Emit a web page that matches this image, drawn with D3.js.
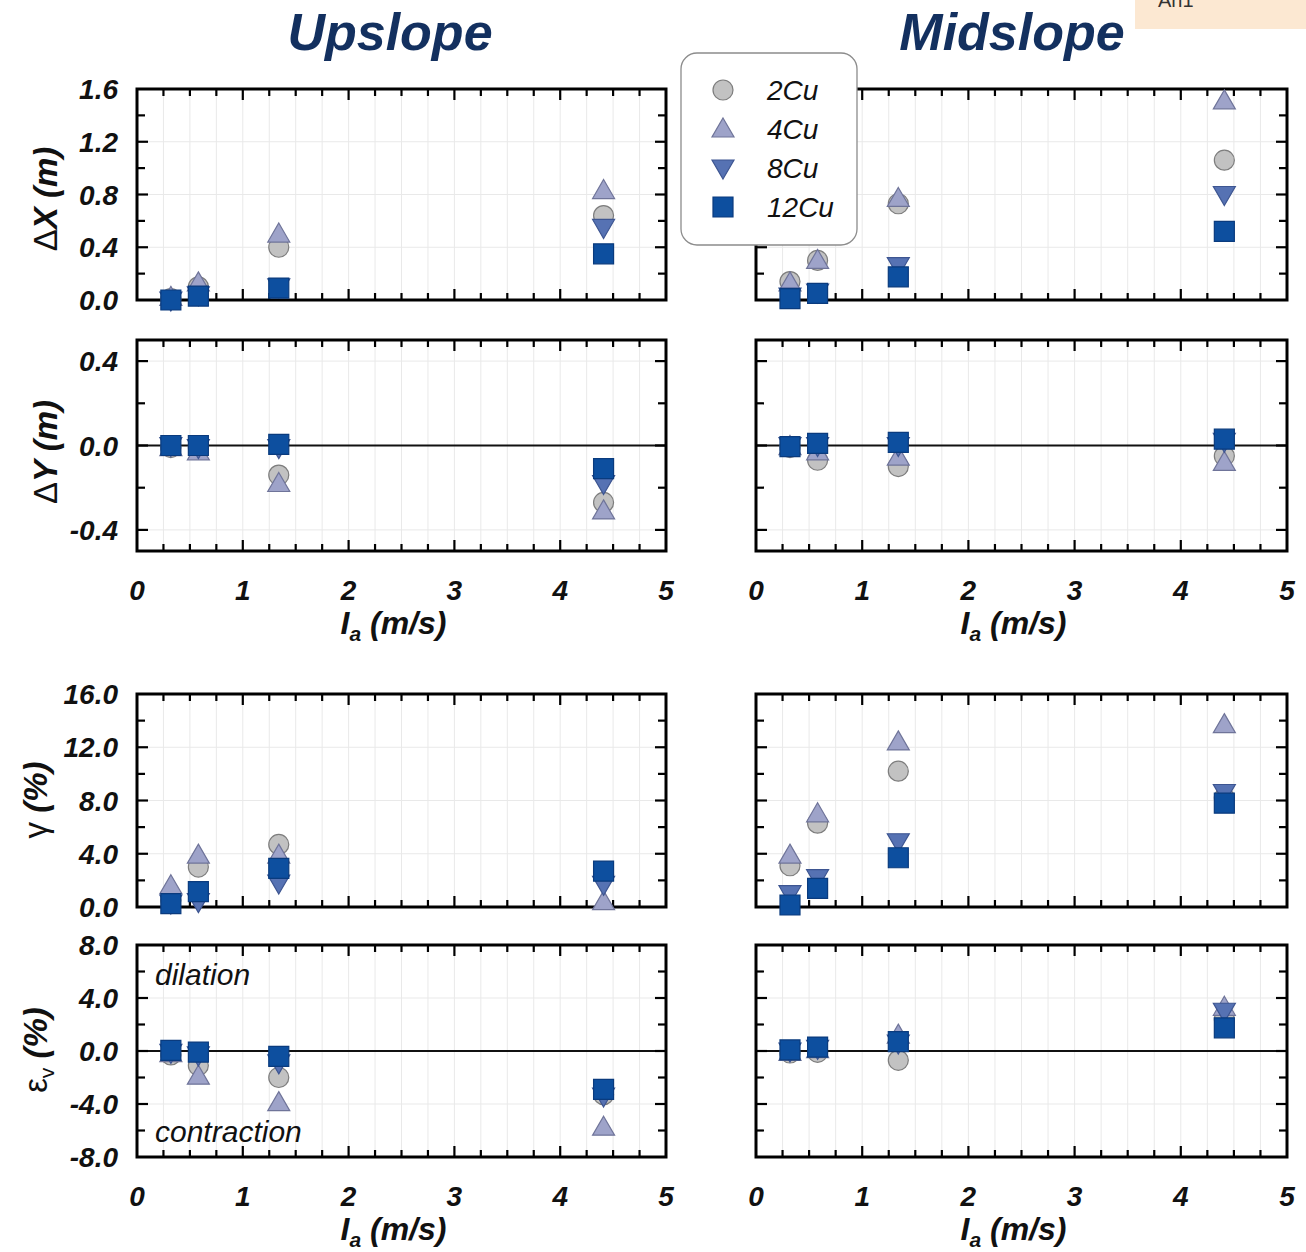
<!DOCTYPE html>
<html>
<head>
<meta charset="utf-8">
<script src="https://cdn.jsdelivr.net/npm/d3@7"></script>
<style>
  html, body { margin: 0; padding: 0; background: #ffffff; }
  svg { display: block; font-family: "Liberation Sans", Arial, sans-serif; }
</style>
</head>
<body>
<svg id="chart" width="1306" height="1252"></svg>
<script>
// Arias intensity of each shaking event (m/s)
const ia = [0.32, 0.58, 1.34, 4.41];
const seriesNames = ["2Cu", "4Cu", "8Cu", "12Cu"];
const xTickValues = [0, 1, 2, 3, 4, 5];

// Rows below follow seriesNames order: 2Cu, 4Cu, 8Cu, 12Cu
const dxUpslope = [
  [0.01, 0.10, 0.40, 0.64],
  [0.02, 0.13, 0.50, 0.83],
  [0.00, 0.04, 0.10, 0.55],
  [0.00, 0.03, 0.09, 0.35]
];
const dxMidslope = [
  [0.14, 0.30, 0.73, 1.06],
  [0.13, 0.30, 0.77, 1.51],
  [0.03, 0.06, 0.26, 0.80],
  [0.01, 0.05, 0.175, 0.52]
];
const dyUpslope = [
  [-0.01, -0.01, -0.14, -0.27],
  [-0.01, -0.03, -0.18, -0.31],
  [0.00, -0.01, -0.01, -0.18],
  [0.00, 0.00, 0.005, -0.11]
];
const dyMidslope = [
  [-0.01, -0.07, -0.10, -0.05],
  [-0.005, -0.03, -0.055, -0.08],
  [0.00, 0.00, 0.00, 0.02],
  [-0.005, 0.01, 0.015, 0.03]
];
const gammaUpslope = [
  [0.5, 3.0, 4.7, 2.4],
  [1.6, 3.9, 3.9, 0.4],
  [0.3, 0.4, 1.8, 1.7],
  [0.25, 1.15, 2.9, 2.7]
];
const gammaMidslope = [
  [3.1, 6.3, 10.2, 8.2],
  [3.9, 7.0, 12.4, 13.7],
  [1.0, 2.2, 4.9, 8.6],
  [0.15, 1.4, 3.7, 7.8]
];
const evUpslope = [
  [-0.3, -1.1, -2.0, -3.3],
  [-0.2, -1.9, -3.9, -5.75],
  [-0.1, -0.3, -0.9, -3.4],
  [0.05, -0.08, -0.4, -2.9]
];
const evMidslope = [
  [-0.15, -0.1, -0.7, 2.4],
  [-0.1, 0.1, 1.2, 3.3],
  [0.0, 0.2, 0.6, 3.0],
  [0.08, 0.3, 0.7, 1.75]
];

const svg = d3.select("#chart");
const FONT = '"Liberation Sans", Arial, sans-serif';
const fmt1 = v => d3.format(".1f")(v).replace("\u2212", "-");

// marker styling per series
const markerStyle = [
  { shape: "circle", fill: "#c2c2c2", stroke: "#7d7d7d" },
  { shape: "up",     fill: "#9ea3c9", stroke: "#6f7499" },
  { shape: "down",   fill: "#5672b3", stroke: "#3d5591" },
  { shape: "square", fill: "#0d4f9f", stroke: "#0a3b7e" }
];

function markerPath(shape) {
  switch (shape) {
    case "circle": return "M10,0A10,10 0 1,1 -10,0A10,10 0 1,1 10,0Z";
    case "up":     return "M0,-11L11,8L-11,8Z";
    case "down":   return "M0,11L11,-8L-11,-8Z";
    default:       return "M-10,-10H10V10H-10Z";
  }
}

const columns = [
  { x0: 137, x1: 666, title: "Upslope" },
  { x0: 756, x1: 1287, title: "Midslope" }
];

const rows = [
  { y0: 89, y1: 300, domain: [0, 1.6], labels: [0, 0.4, 0.8, 1.2, 1.6], minor: d3.range(0, 1.61, 0.2),
    zero: false, data: [dxUpslope, dxMidslope] },
  { y0: 340, y1: 551, domain: [-0.5, 0.5], labels: [-0.4, 0, 0.4], minor: [-0.4, -0.2, 0, 0.2, 0.4],
    zero: true, data: [dyUpslope, dyMidslope], xLabels: true },
  { y0: 694, y1: 907, domain: [0, 16], labels: [0, 4, 8, 12, 16], minor: d3.range(0, 16.1, 2),
    zero: false, data: [gammaUpslope, gammaMidslope] },
  { y0: 945, y1: 1157, domain: [-8, 8], labels: [-8, -4, 0, 4, 8], minor: d3.range(-8, 8.1, 2),
    zero: true, data: [evUpslope, evMidslope], xLabels: true }
];

const xMinor = d3.range(0.25, 5, 0.25);

rows.forEach((row, ri) => {
  columns.forEach((col, ci) => {
    const x = d3.scaleLinear().domain([0, 5]).range([col.x0, col.x1]);
    const y = d3.scaleLinear().domain(row.domain).range([row.y1, row.y0]);
    const g = svg.append("g");

    // light grid
    g.selectAll(".vgrid").data(xMinor).enter().append("line")
      .attr("x1", d => x(d)).attr("x2", d => x(d))
      .attr("y1", row.y0).attr("y2", row.y1)
      .attr("stroke", "#e9e9e9").attr("stroke-width", 1);
    g.selectAll(".hgrid").data(row.labels.filter(v => v !== row.domain[0] && v !== row.domain[1] && v !== 0))
      .enter().append("line")
      .attr("x1", col.x0).attr("x2", col.x1)
      .attr("y1", d => y(d)).attr("y2", d => y(d))
      .attr("stroke", "#e9e9e9").attr("stroke-width", 1);

    if (row.zero) {
      g.append("line")
        .attr("x1", col.x0).attr("x2", col.x1)
        .attr("y1", y(0)).attr("y2", y(0))
        .attr("stroke", "#111").attr("stroke-width", 2);
    }

    // inward ticks on all four sides
    xMinor.forEach(v => {
      const len = Math.abs(v - Math.round(v)) < 1e-6 ? 11 : 7;
      g.append("line").attr("x1", x(v)).attr("x2", x(v))
        .attr("y1", row.y0).attr("y2", row.y0 + len)
        .attr("stroke", "#000").attr("stroke-width", 2.2);
      g.append("line").attr("x1", x(v)).attr("x2", x(v))
        .attr("y1", row.y1).attr("y2", row.y1 - len)
        .attr("stroke", "#000").attr("stroke-width", 2.2);
    });
    row.minor.forEach(v => {
      if (v <= row.domain[0] + 1e-9 || v >= row.domain[1] - 1e-9) return;
      const major = row.labels.some(l => Math.abs(l - v) < 1e-9);
      const len = major ? 11 : 8;
      g.append("line").attr("x1", col.x0).attr("x2", col.x0 + len)
        .attr("y1", y(v)).attr("y2", y(v))
        .attr("stroke", "#000").attr("stroke-width", 2.2);
      g.append("line").attr("x1", col.x1).attr("x2", col.x1 - len)
        .attr("y1", y(v)).attr("y2", y(v))
        .attr("stroke", "#000").attr("stroke-width", 2.2);
    });

    // frame
    g.append("rect")
      .attr("x", col.x0).attr("y", row.y0)
      .attr("width", col.x1 - col.x0).attr("height", row.y1 - row.y0)
      .attr("fill", "none").attr("stroke", "#000").attr("stroke-width", 3);

    // y tick labels on the left column only
    if (ci === 0) {
      g.selectAll(".ylab").data(row.labels).enter().append("text")
        .attr("x", col.x0 - 19).attr("y", d => y(d)).attr("dy", "0.36em")
        .attr("text-anchor", "end")
        .attr("font-family", FONT).attr("font-size", 28)
        .attr("font-weight", "bold").attr("font-style", "italic").attr("fill", "#111")
        .text(d => fmt1(d));
    }

    // x tick labels + axis title below rows 2 and 4
    if (row.xLabels) {
      g.selectAll(".xlab").data(xTickValues).enter().append("text")
        .attr("x", d => x(d)).attr("y", row.y1 + 39).attr("dy", "0.36em")
        .attr("text-anchor", "middle")
        .attr("font-family", FONT).attr("font-size", 28)
        .attr("font-weight", "bold").attr("font-style", "italic").attr("fill", "#111")
        .text(d => d);
      const t = g.append("text")
        .attr("x", (col.x0 + col.x1) / 2 - 8).attr("y", row.y1 + 83)
        .attr("text-anchor", "middle")
        .attr("font-family", FONT).attr("font-size", 32)
        .attr("font-weight", "bold").attr("font-style", "italic").attr("fill", "#111");
      t.append("tspan").text("I");
      t.append("tspan").attr("font-size", 21).attr("dy", 7).text("a");
      t.append("tspan").attr("dy", -7).text(" (m/s)");
    }

    // markers: circles first, squares on top
    row.data[ci].forEach((vals, si) => {
      const st = markerStyle[si];
      g.selectAll(".m" + si).data(vals).enter().append("path")
        .attr("d", markerPath(st.shape))
        .attr("transform", (d, i) => `translate(${x(ia[i])},${y(d)})`)
        .attr("fill", st.fill).attr("stroke", st.stroke).attr("stroke-width", 1.2);
    });
  });
});

// y-axis titles
function yTitle(cx, cy, parts) {
  const t = svg.append("text")
    .attr("transform", `translate(${cx},${cy}) rotate(-90)`)
    .attr("text-anchor", "middle")
    .attr("font-family", FONT).attr("font-size", 33).attr("fill", "#111");
  parts.forEach(p => {
    const s = t.append("tspan").text(p.text);
    s.attr("font-weight", p.plain ? "normal" : "bold")
     .attr("font-style", p.plain ? "normal" : "italic");
    if (p.size) s.attr("font-size", p.size);
    if (p.dy) s.attr("dy", p.dy);
  });
}
yTitle(57, 199, [{ text: "\u0394", plain: true }, { text: "X (m)" }]);
yTitle(57, 452, [{ text: "\u0394", plain: true }, { text: "Y (m)" }]);
yTitle(47, 800, [{ text: "\u03B3", plain: true }, { text: " (%)" }]);
yTitle(47, 1050, [{ text: "\u03B5", plain: true }, { text: "v", plain: true, size: 21, dy: 7 },
                  { text: " (%)", dy: -7 }]);

// annotations in the upslope volumetric strain panel
svg.append("text").attr("x", 155).attr("y", 985)
  .attr("font-family", FONT).attr("font-size", 30).attr("font-style", "italic").attr("fill", "#111")
  .text("dilation");
svg.append("text").attr("x", 155).attr("y", 1142)
  .attr("font-family", FONT).attr("font-size", 30).attr("font-style", "italic").attr("fill", "#111")
  .text("contraction");

// column titles
columns.forEach((col, i) => {
  svg.append("text")
    .attr("x", i === 0 ? 390 : 1012).attr("y", 50)
    .attr("text-anchor", "middle")
    .attr("font-family", FONT).attr("font-size", 52)
    .attr("font-weight", "bold").attr("font-style", "italic").attr("fill", "#13305f")
    .text(col.title);
});

// legend
const lg = svg.append("g");
lg.append("rect").attr("x", 681).attr("y", 53).attr("width", 176).attr("height", 192)
  .attr("rx", 16).attr("fill", "#fff").attr("stroke", "#8c8c8c").attr("stroke-width", 1.3);
seriesNames.forEach((name, i) => {
  const yy = 90 + i * 39;
  const st = markerStyle[i];
  lg.append("path").attr("d", markerPath(st.shape))
    .attr("transform", `translate(723,${yy})`)
    .attr("fill", st.fill).attr("stroke", st.stroke).attr("stroke-width", 1.2);
  lg.append("text").attr("x", 767).attr("y", yy).attr("dy", "0.36em")
    .attr("font-family", FONT).attr("font-size", 28).attr("font-style", "italic").attr("fill", "#111")
    .text(name);
});

// tag in the top-right corner
svg.append("rect").attr("x", 1135).attr("y", 0).attr("width", 171).attr("height", 29).attr("fill", "#fce8d2");
svg.append("text").attr("x", 1158).attr("y", 7)
  .attr("font-family", FONT).attr("font-size", 20).attr("fill", "#333").text("An1");
</script>
</body>
</html>
